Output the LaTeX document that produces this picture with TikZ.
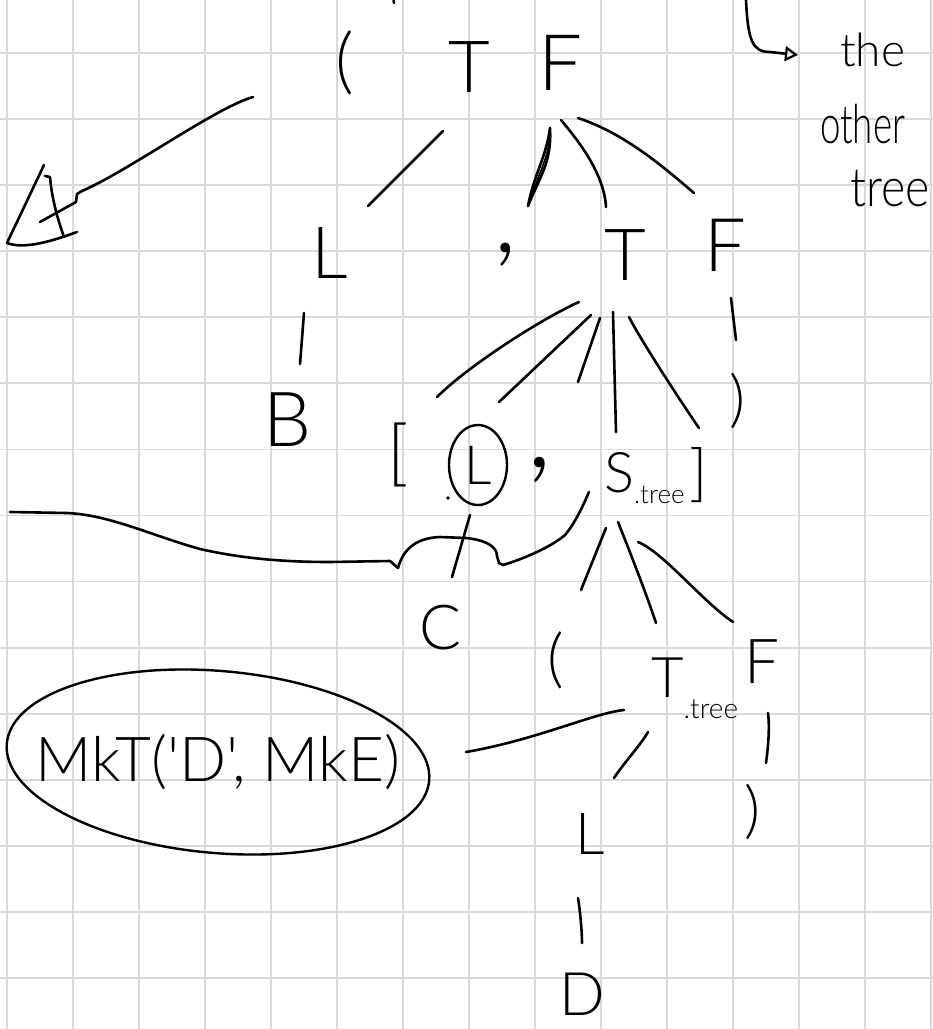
\documentclass[tikz,border=0pt]{standalone}
\usepackage{graphicx}
\usepackage{fontspec}
\newfontfamily\hand{Lato Light}[Ligatures=TeXOff]
\usetikzlibrary{shapes.geometric,arrows.meta}
\tikzset{
  ink/.style={draw=black, line width=2.6pt, line cap=round, line join=round},
  hw/.style={inner sep=0pt, font=\hand\fontsize{#1}{#1}\selectfont},
  hw/.default=72,
  gridline/.style={draw=black!15, line width=1.8pt},
  ring/.style={draw=black, line width=2.4pt, ellipse, inner sep=0pt},
}
\begin{document}
\begin{tikzpicture}[x=1pt,y=-1pt]
\useasboundingbox (0,0) rectangle (933,1029);
\fill[white] (0,0) rectangle (933,1029);

% squared paper
\foreach \i in {0,...,14} \draw[gridline] ({7+66*\i},0) -- ({7+66*\i},1029);
\foreach \j in {0,...,14} \draw[gridline] (0,{53+66.07*\j}) -- (933,{53+66.07*\j});

% ---- symbols of the tree ----
\node[hw] (lp1) at (345,63) {(};
\node[hw] (T1) at (469,67) {T};
\node[hw=78] (F1) at (561,63) {F};

\node[hw=46, anchor=base west] (the) at (840,66) {the};
\node[hw=54, anchor=base west] (other) at (820,143) {\scalebox{0.68}[1]{other}};
\node[hw=54, anchor=base west] (tree) at (850,206) {\scalebox{0.86}[1]{tree}};

\node[hw] (L2) at (330,253) {L};
\node[hw=110] (cm2) at (506,255) {,};
\node[hw] (T2) at (625,255) {T};
\node[hw=74] (F2) at (725,245) {F};

\node[hw=76] (B3) at (288,420) {B};
\node[hw] (lb3) at (398,455) {[};
\node[ring, minimum width=58pt, minimum height=80pt, font=\hand\fontsize{54}{54}\selectfont] (L3) at (478,465) {L};
\node[hw=120] (cm3) at (540,470) {,};
\node[hw=56, anchor=base west] (S3) at (604,492) {S\raisebox{-11pt}{\fontsize{26}{26}\selectfont .tree}};
\node[hw=62] (rb3) at (699,475) {]};
\node[hw=62] (rp2) at (737,401) {)};

\node[hw=62] (C4) at (440,628) {C};
\node[hw=64] (lp4) at (556,660) {(};
\node[hw=56, anchor=base west] (T4) at (651,697) {T\raisebox{-21pt}{\fontsize{28}{28}\selectfont .tree}};
\node[hw=62] (F4) at (762,662) {F};

\node[ring, minimum width=424pt, minimum height=182pt, rotate=-5] (mkring) at (218,762) {};
\node[hw=62] (mk) at (218,762) {MkT('D', MkE)};
\node[hw=62] (rp5) at (752,812) {)};
\node[hw=58] (L5) at (590,834) {L};
\node[hw=60] (D6) at (582,994) {D};

% small marks
\fill (448,498) circle (1.8pt);
\draw[ink] (393,-4) -- (394,3);

% ---- branches ----
\draw[ink] ([shift={(-118,68)}]F1.center) -- ([shift={(38,-47)}]L2.center);
\draw[ink] ([shift={(-11,65)}]F1.center) coordinate (b1)
  .. controls +(-4,30) and +(6,-32) .. ([shift={(22,-49)}]cm2.center) coordinate (b2)
  .. controls +(12,-30) and +(2,34) .. (b1);
\draw[ink, line width=1.6pt] (b1) .. controls +(1,28) and +(8,-28) .. (b2);
\draw[ink] ([shift={(0,57)}]F1.center) .. controls +(15,18) and +(-2,-35) .. ([shift={(-19,-48)}]T2.center);
\draw[ink] ([shift={(17,55)}]F1.center) .. controls +(45,15) and +(-35,-30) .. ([shift={(-31,-52)}]F2.center);

\draw[ink] ([shift={(-26,60)}]L2.center) -- ([shift={(12,-56)}]B3.center);

\draw[ink] ([shift={(-46,47)}]T2.center) .. controls +(-40,18) and +(30,-30) .. ([shift={(39,-58)}]lb3.center);
\draw[ink] ([shift={(-34,60)}]T2.center) -- ([shift={(21,-63)}]L3.center);
\draw[ink] ([shift={(-25,63)}]T2.center) -- ([shift={(38,-88)}]cm3.center);
\draw[ink] ([shift={(-12,57)}]T2.center) -- ([shift={(12,-60)}]S3.base west);
\draw[ink] ([shift={(4,62)}]T2.center) .. controls +(10,20) and +(-22,-32) .. ([shift={(0,-47)}]rb3.center);

\draw[ink] ([shift={(6,53)}]F2.center) -- ([shift={(-1,-61)}]rp2.center);

\draw[ink] ([shift={(-8,50)}]L3.center) -- ([shift={(12,-51)}]C4.center);

% brace from the left margin up to S.tree
\coordinate (bracetail) at (10,512);
\draw[ink] (bracetail) -- (67,513)
  .. controls (110,515) and (150,535) .. (200,549)
  .. controls (240,558) and (280,562) .. (330,562) -- (390,561) -- (398,568)
  .. controls (403,550) and (415,538) .. (440,537) -- (466,538)
  .. controls (485,540) and (497,546) .. (497,556) -- (499,563) -- (503,565)
  .. controls (520,560) and (550,548) .. (565,535)
  .. controls (575,523) and (582,508) .. ([shift={(-15,0)}]S3.base west);

\draw[ink] ([shift={(2,36)}]S3.base west) -- ([shift={(25,-70)}]lp4.center);
\draw[ink] ([shift={(14,30)}]S3.base west) .. controls +(12,30) and +(-10,-30) .. ([shift={(5,-74)}]T4.base west);
\draw[ink] ([shift={(34,50)}]S3.base west) .. controls +(25,10) and +(-30,-20) .. ([shift={(-29,-40)}]F4.center);

\draw[ink] ([shift={(248,-10)}]mk.center) .. controls +(70,-12) and +(-30,3) .. ([shift={(-27,13)}]T4.base west);
\draw[ink] ([shift={(-3,35)}]T4.base west) .. controls +(-8,14) and +(12,-18) .. ([shift={(24,-56)}]L5.center);
\draw[ink] ([shift={(6,51)}]F4.center) .. controls +(2,15) and +(2,-15) .. ([shift={(14,-49)}]rp5.center);
\draw[ink] ([shift={(-12,64)}]L5.center) .. controls +(2,12) and +(0,-12) .. ([shift={(0,-51)}]D6.center);

% hooked pointer to the other tree
\coordinate (hooktop) at (746,0);
\draw[ink, -{Triangle[open, length=13pt, width=15pt, line width=2.2pt]}]
  (hooktop) .. controls (748,40) and (752,52) .. (770,52) -- ([shift={(-42,-11)}]the.base west);

% arrow out to the left
\coordinate (leftstart) at (253,97);
\coordinate (lefttip) at (40,222);
\draw[ink] (leftstart) .. controls (215,108) and (130,170) .. (82,191) -- (77,194) -- (76,202) -- (lefttip);
\draw[ink] (44,165) -- (7,243) .. controls (25,250) and (55,240) .. (77,232);
\draw[ink] (45,176) -- (50,177) .. controls (52,200) and (58,220) .. (64,237);
\end{tikzpicture}
\end{document}
